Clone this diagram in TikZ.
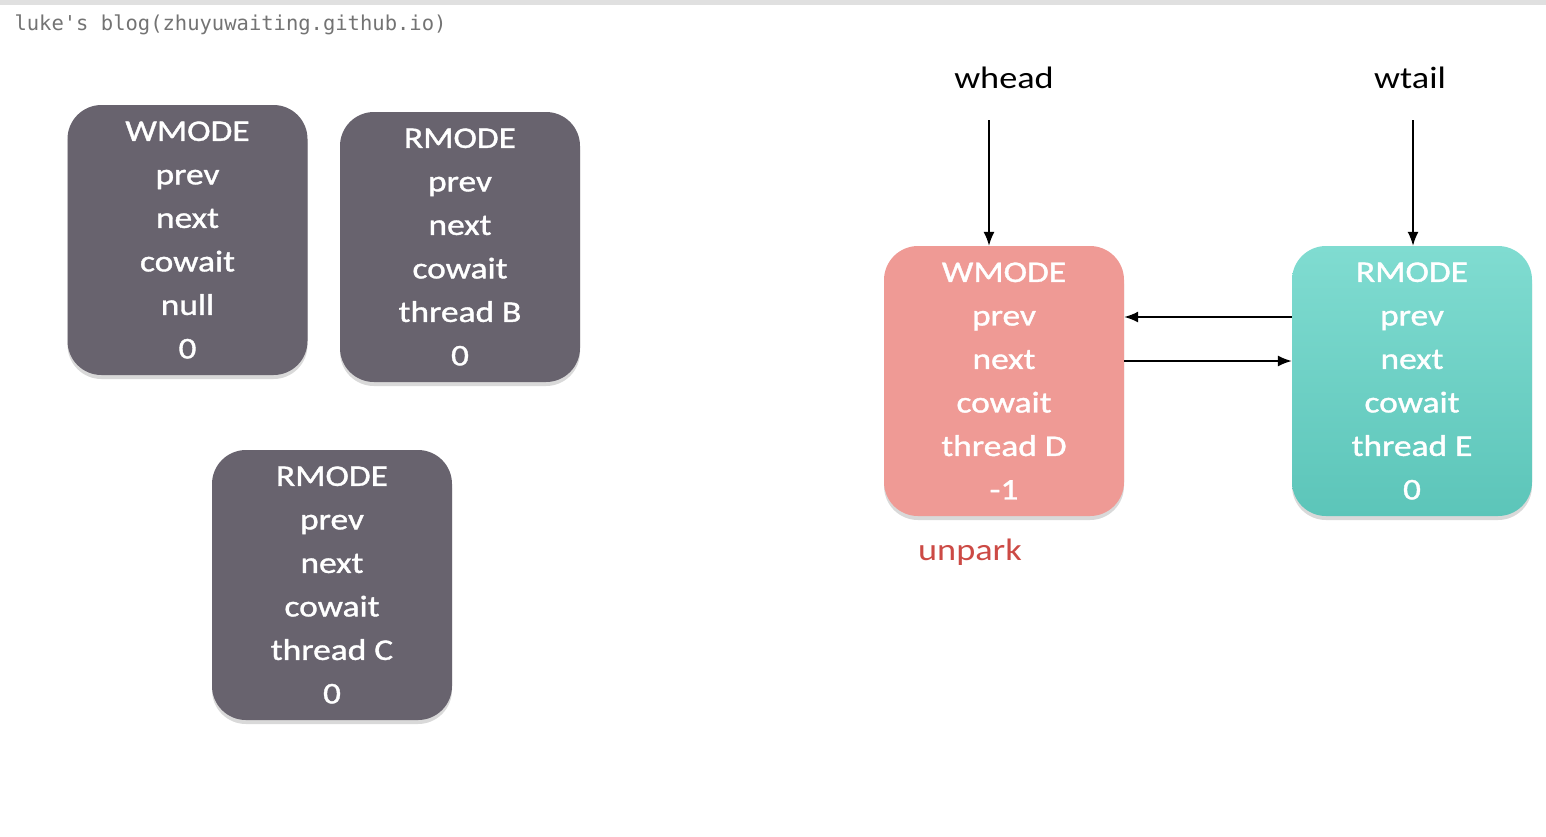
\documentclass[tikz,border=0pt]{standalone}
\usepackage{fontspec}
\setmainfont{Carlito}[FakeStretch=1.17]
\newfontfamily\boxfont{Carlito}[FakeStretch=1.18, FakeBold=1.2]
\setmonofont{DejaVu Sans Mono}
\usetikzlibrary{shadows, arrows.meta}
\definecolor{nodegray}{HTML}{68636E}
\definecolor{nodepink}{HTML}{EF9A95}
\definecolor{tealtop}{HTML}{80DCD1}
\definecolor{tealbot}{HTML}{5CC5B9}
\definecolor{unparkred}{HTML}{CC4A45}
\begin{document}
\begin{tikzpicture}[x=1pt, y=-1pt,
  qnode/.style={rounded corners=34pt, minimum width=240pt, minimum height=270pt,
    inner sep=0pt, align=center, text=white,
    font=\boxfont\fontsize{30}{43.5}\selectfont,
    drop shadow={opacity=0.3, shadow xshift=0pt, shadow yshift=-4pt}},
  ptr/.style={font=\fontsize{31}{36}\selectfont},
  link/.style={-{Latex[length=14pt, width=11pt]}, line width=1.6pt}]
\useasboundingbox (0,0) rectangle (1546,836);
\fill[black!12] (0,0) rectangle (1546,5);
\node[anchor=base west, text=black!55, font=\ttfamily\fontsize{20.5}{24}\selectfont]
  (blog) at (11,30) {luke's blog(zhuyuwaiting.github.io)};
% left side: nodes already taken off the queue
\node[qnode, fill=nodegray] (wA) at (187.5,240) {WMODE\\prev\\next\\cowait\\null\\0};
\node[qnode, fill=nodegray] (rB) at (460,247) {RMODE\\prev\\next\\cowait\\thread B\\0};
\node[qnode, fill=nodegray] (rC) at (332,585) {RMODE\\prev\\next\\cowait\\thread C\\0};
% right side: the wait queue
\node[qnode, fill=nodepink] (wD) at (1004,381) {WMODE\\prev\\next\\cowait\\thread D\\-1};
\node[qnode, top color=tealtop, bottom color=tealbot] (rE) at (1412,381) {RMODE\\prev\\next\\cowait\\thread E\\0};
\node[ptr] (whead) at (1004,78) {whead};
\node[ptr] (wtail) at (1410,78) {wtail};
\node[ptr, text=unparkred] (unpark) at (970,552) {unpark};
\coordinate (hd) at (989,120);
\coordinate (tl) at (1413,120);
\draw[link] (hd) -- (hd |- wD.north);
\draw[link] (tl) -- (tl |- rE.north);
\draw[link] (rE.west |- 0,317) -- (wD.east |- 0,317);
\draw[link] (wD.east |- 0,361) -- (rE.west |- 0,361);
\end{tikzpicture}
\end{document}
